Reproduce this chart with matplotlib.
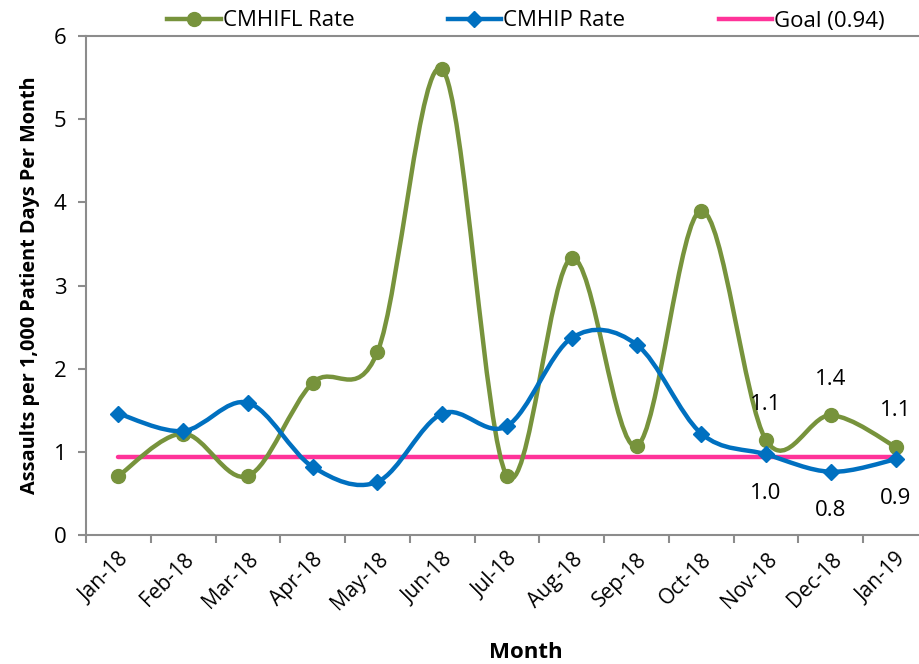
import matplotlib.pyplot as plt
import numpy as np
from matplotlib.path import Path
from matplotlib.patches import PathPatch
from matplotlib.lines import Line2D

months = ["Jan-18", "Feb-18", "Mar-18", "Apr-18", "May-18", "Jun-18", "Jul-18",
          "Aug-18", "Sep-18", "Oct-18", "Nov-18", "Dec-18", "Jan-19"]
cmhifl_rate = [0.71, 1.22, 0.71, 1.83, 2.20, 5.60, 0.71, 3.33, 1.07, 3.90, 1.14, 1.44, 1.06]
cmhip_rate = [1.46, 1.25, 1.59, 0.82, 0.64, 1.46, 1.31, 2.37, 2.29, 1.22, 0.97, 0.76, 0.91]
goal = 0.94
labelled = [10, 11, 12]

GREEN = "#77933C"
BLUE = "#0070C0"
PINK = "#FF3399"
GRAY = "#8C8C8C"

plt.rcParams['font.family'] = ['Open Sans', 'DejaVu Sans']


def smooth_path(x, y):
    # cubic bezier segments through every point (catmull-rom style tangents)
    pts = np.column_stack([x, y]).astype(float)
    verts = [pts[0]]
    codes = [Path.MOVETO]
    n = len(pts)
    for i in range(n - 1):
        p0 = pts[max(i - 1, 0)]
        p1 = pts[i]
        p2 = pts[i + 1]
        p3 = pts[min(i + 2, n - 1)]
        c1 = p1 + (p2 - p0) / 6.0
        c2 = p2 - (p3 - p1) / 6.0
        verts += [c1, c2, p2]
        codes += [Path.CURVE4] * 3
    return Path(verts, codes)


fig = plt.figure(figsize=(9.2, 6.64), dpi=100)
ax = fig.add_axes([86 / 920, (664 - 535) / 664, 842 / 920, 499 / 664])

x = np.arange(len(months))

# goal line
ax.plot([x[0], x[-1]], [goal, goal], color=PINK, lw=3.2, solid_capstyle='round', zorder=2)

# smoothed series with markers
ax.add_patch(PathPatch(smooth_path(x, cmhifl_rate), facecolor='none', edgecolor=GREEN,
                       lw=3.2, zorder=3))
ax.plot(x, cmhifl_rate, ls='none', marker='o', ms=10, color=GREEN, zorder=4)
ax.add_patch(PathPatch(smooth_path(x, cmhip_rate), facecolor='none', edgecolor=BLUE,
                       lw=3.2, zorder=3))
ax.plot(x, cmhip_rate, ls='none', marker='D', ms=8, color=BLUE, zorder=4)

for i in labelled:
    ax.annotate("%.1f" % cmhifl_rate[i], (x[i], cmhifl_rate[i]), xytext=(0, 26),
                textcoords='offset points', ha='center', va='center', fontsize=16)
    ax.annotate("%.1f" % cmhip_rate[i], (x[i], cmhip_rate[i]), xytext=(0, -28),
                textcoords='offset points', ha='center', va='center', fontsize=16)

ax.set_xlim(-0.5, 12.5)
ax.set_ylim(0, 6)
ax.set_yticks(range(7))
ax.set_xticks(x)
ax.set_xticklabels(months, rotation=45, ha='right', rotation_mode='anchor', fontsize=15)
ax.set_xticks(np.arange(-0.5, 13, 1), minor=True)
ax.tick_params(axis='x', which='major', length=0, pad=10)
ax.tick_params(axis='x', which='minor', length=6, color=GRAY, width=1.5)
ax.tick_params(axis='y', length=6, color=GRAY, width=1.5, labelsize=16, pad=8)
ax.axhline(6, color=GRAY, lw=1.5, clip_on=False)

for side in ['top', 'right']:
    ax.spines[side].set_visible(False)
for side in ['left', 'bottom']:
    ax.spines[side].set_color(GRAY)
    ax.spines[side].set_linewidth(1.5)

ax.set_xlabel("Month", fontsize=16, fontweight='bold', va='center')
ax.xaxis.set_label_coords((526 - 86) / 842, (535 - 652) / 499)
ax.set_ylabel("Assaults per 1,000 Patient Days Per Month", fontsize=14.3,
              fontweight='bold', labelpad=10)

handles = [
    Line2D([], [], color=GREEN, lw=3.2, marker='o', ms=10),
    Line2D([], [], color=BLUE, lw=3.2, marker='D', ms=8),
    Line2D([], [], color=PINK, lw=3.2),
]
fig.legend(handles, ["CMHIFL Rate", "CMHIP Rate", "Goal (0.94)"], loc='center',
           bbox_to_anchor=(526 / 920, 1 - 21 / 664), ncol=3, frameon=False,
           fontsize=16, handlelength=2.4, handletextpad=0.1, columnspacing=4.2)

fig.savefig("out.png", dpi=100)
